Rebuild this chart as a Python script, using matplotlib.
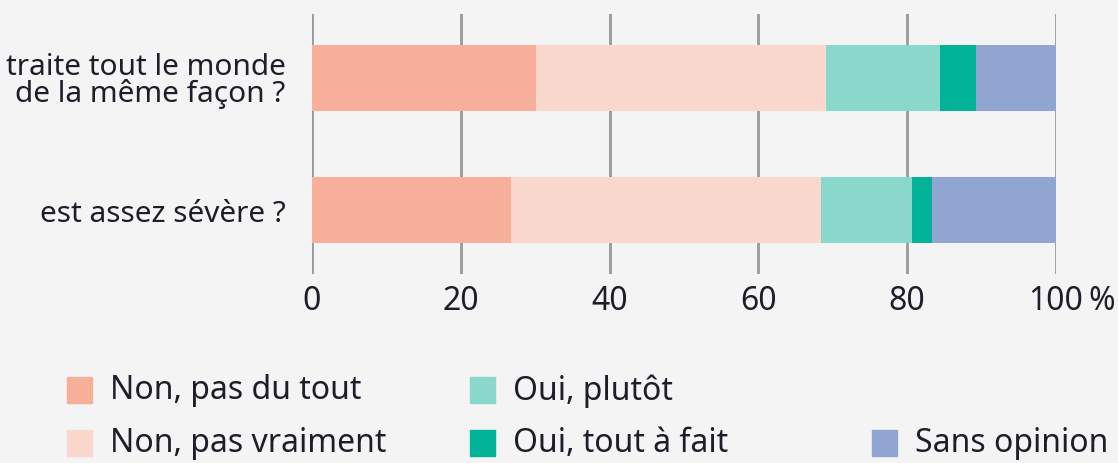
import matplotlib.pyplot as plt
from matplotlib.patches import Rectangle

# Data (percent)
questions = ["traite tout le monde\nde la même façon ?", "est assez sévère ?"]
answers = ["Non, pas du tout", "Non, pas vraiment", "Oui, plutôt", "Oui, tout à fait", "Sans opinion"]
non_pas_du_tout = [30.1, 26.7]
non_pas_vraiment = [39.0, 41.7]
oui_plutot = [15.3, 12.2]
oui_tout_a_fait = [4.8, 2.7]
sans_opinion = [10.8, 16.7]
x_ticks = [0, 20, 40, 60, 80, 100]

colors = ['#F7AF9A', '#FAD8CE', '#8AD8CC', '#00B396', '#91A5D2']
bg = '#F4F4F4'
txt = '#1e1e2a'
fs = 23

plt.rcParams['font.family'] = ['Noto Sans', 'DejaVu Sans']

fig = plt.figure(figsize=(11.18, 4.64), dpi=100, facecolor=bg)
ax = fig.add_axes([312 / 1118, 1 - 275 / 464, (1056 - 312) / 1118, 260 / 464])
ax.set_facecolor(bg)

series = [non_pas_du_tout, non_pas_vraiment, oui_plutot, oui_tout_a_fait, sans_opinion]
ypos = [1, 0]
left = [0, 0]
for vals, c in zip(series, colors):
    ax.barh(ypos, vals, left=left, height=0.5, color=c, zorder=3)
    left = [l + v for l, v in zip(left, vals)]

for x in x_ticks:
    ax.axvline(x, color='#9a9a9a', lw=2, zorder=1)

ax.set_xlim(0, 100)
ax.set_ylim(-0.48, 1.48)
ax.set_xticks(x_ticks)
ax.set_xticklabels([str(x) for x in x_ticks])
ax.set_yticks(ypos)
ax.set_yticklabels(questions, linespacing=0.9)
ax.tick_params(axis='both', length=0, labelsize=fs, colors=txt)
ax.tick_params(axis='x', pad=7)
ax.tick_params(axis='y', pad=19, labelsize=21.5)
for s in ax.spines.values():
    s.set_visible(False)

# percent sign after the last tick label
ax.annotate('%', xy=(100, 0), xycoords=('data', 'axes fraction'),
            xytext=(23, -7), textcoords='offset points',
            ha='left', va='top', fontsize=fs, color=txt)

# legend drawn by hand in figure pixels
legend_pos = [(67, 391), (67, 444), (470, 391), (470, 444), (872, 444)]
for (px, py), lab, c in zip(legend_pos, answers, colors):
    fig.add_artist(Rectangle(((px) / 1118, 1 - (py + 13) / 464), 25 / 1118, 26 / 464,
                             transform=fig.transFigure, color=c))
    fig.text((px + 43) / 1118, 1 - py / 464, lab, ha='left', va='center',
             fontsize=fs, color=txt)

plt.savefig('out.png', dpi=100, facecolor=bg)
